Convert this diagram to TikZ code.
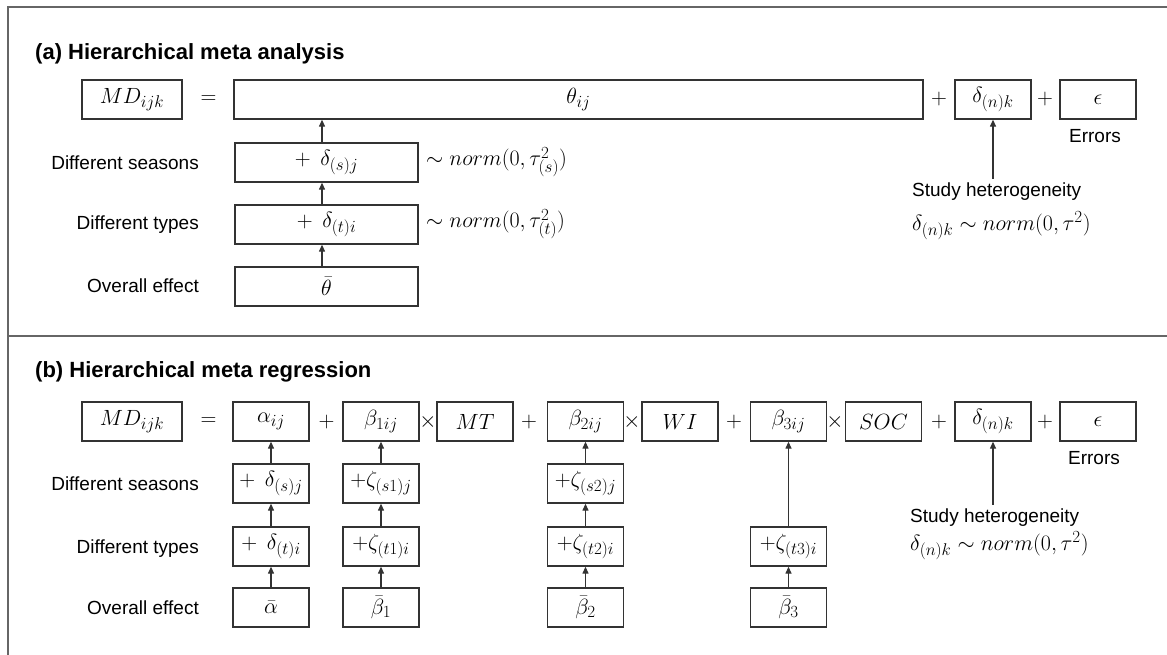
\RequirePackage{fix-cm}
\documentclass[tikz,border=0pt]{standalone}
\usepackage{fontspec}
\newfontfamily\labfont{Liberation Sans}
\DeclareMathSizes{22}{22}{17}{13}
\usetikzlibrary{arrows.meta}
\begin{document}
\begin{tikzpicture}[x=1pt,y=-1pt,
  bx/.style={draw=black!80, line width=1.3pt, inner sep=0pt, minimum height=39pt, font=\fontsize{22}{26}\selectfont},
  mth/.style={inner sep=0pt, font=\fontsize{22}{26}\selectfont},
  lab/.style={inner sep=0pt, font=\labfont\fontsize{19}{23}\selectfont},
  ttl/.style={inner sep=0pt, anchor=base west, font=\labfont\bfseries\fontsize{22}{26}\selectfont},
  arr/.style={draw=black!80, line width=1.2pt, -{Triangle[length=7pt,width=6pt]}},
  frm/.style={draw=black!60, line width=1.5pt}]
\useasboundingbox (0,0) rectangle (1167,655);
% frame
\coordinate (fBL) at (8,655);
\coordinate (fTL) at (8,7);
\coordinate (fTR) at (1167,7);
\coordinate (dL) at (8,336);
\coordinate (dR) at (1167,336);
\draw[frm] (fBL) -- (fTL) -- (fTR);
\draw[frm] (dL) -- (dR);

% ---------------- panel (a)
\node[ttl] (ta) at (35,59.5) {(a) Hierarchical meta analysis};
\node[bx, minimum width=100pt] (amd) at (132,99.5) {$MD_{ijk}$};
\node[mth] (aeq) at (208.5,99.5) {$=$};
\node[bx, minimum width=689pt] (ath) at (578.5,99.5) {$\theta_{ij}$};
\node[mth] (ap1) at (939,99.5) {$+$};
\node[bx, minimum width=76pt] (adn) at (993,99.5) {$\delta_{(n)k}$};
\node[mth] (ap2) at (1045,99.5) {$+$};
\node[bx, minimum width=76pt] (aep) at (1098,99.5) {$\epsilon$};
\node[lab, anchor=base] (aerr) at (1095,142.5) {Errors};
\node[lab, anchor=base west] (ash) at (912,196.5) {Study heterogeneity};
\node[mth, anchor=base west] (asd) at (912,230) {$\delta_{(n)k}\sim norm(0,\tau^2)$};
\draw[arr] ([yshift=4pt]adn.south |- ash.north) -- (adn.south);

\node[lab, anchor=base east] (als) at (199,169.5) {Different seasons};
\node[lab, anchor=base east] (alt) at (199,229.5) {Different types};
\node[lab, anchor=base east] (alo) at (199,292.5) {Overall effect};
\node[bx, minimum width=183pt] (as) at (326.5,162.5) {$+\;\,\delta_{(s)j}$};
\node[bx, minimum width=183pt] (at) at (326.5,224.5) {$+\;\,\delta_{(t)i}$};
\node[bx, minimum width=183pt] (ao) at (326.5,286.5) {$\bar{\theta}$};
\node[mth, anchor=base west] (ans) at (426,166) {$\sim norm(0,\tau^2_{(s)})$};
\node[mth, anchor=base west] (ant) at (426,228) {$\sim norm(0,\tau^2_{(t)})$};
\draw[arr] ([xshift=-4.5pt]ao.north) -- ([xshift=-4.5pt]at.south);
\draw[arr] ([xshift=-4.5pt]at.north) -- ([xshift=-4.5pt]as.south);
\draw[arr] ([xshift=-4.5pt]as.north) -- ([xshift=-4.5pt]as.north |- ath.south);

% ---------------- panel (b)
\node[ttl] (tb) at (35,377.5) {(b) Hierarchical meta regression};
\node[bx, minimum width=100pt] (bmd) at (132,421.5) {$MD_{ijk}$};
\node[mth] (beq) at (208.5,421.5) {$=$};
\node[bx, minimum width=76pt] (bal) at (271,421.5) {$\alpha_{ij}$};
\node[mth] (bp1) at (326.5,421.5) {$+$};
\node[bx, minimum width=76pt] (bb1) at (381,421.5) {$\beta_{1ij}$};
\node[mth] (bx1) at (428,421.5) {$\times$};
\node[bx, minimum width=76pt] (bmt) at (475,421.5) {$MT$};
\node[mth] (bp2) at (529,421.5) {$+$};
\node[bx, minimum width=76pt] (bb2) at (585.5,421.5) {$\beta_{2ij}$};
\node[mth] (bx2) at (632,421.5) {$\times$};
\node[bx, minimum width=76pt] (bwi) at (680,421.5) {$WI$};
\node[mth] (bp3) at (734,421.5) {$+$};
\node[bx, minimum width=76pt] (bb3) at (788.5,421.5) {$\beta_{3ij}$};
\node[mth] (bx3) at (835,421.5) {$\times$};
\node[bx, minimum width=76pt] (bsoc) at (883.5,421.5) {$SOC$};
\node[mth] (bp4) at (939,421.5) {$+$};
\node[bx, minimum width=76pt] (bdn) at (993,421.5) {$\delta_{(n)k}$};
\node[mth] (bp5) at (1045,421.5) {$+$};
\node[bx, minimum width=76pt] (bep) at (1098,421.5) {$\epsilon$};
\node[lab, anchor=base] (berr) at (1094,464) {Errors};
\node[lab, anchor=base west] (bsh) at (910,522.5) {Study heterogeneity};
\node[mth, anchor=base west] (bsd) at (910,550) {$\delta_{(n)k}\sim norm(0,\tau^2)$};
\draw[arr] ([yshift=4pt]bdn.south |- bsh.north) -- (bdn.south);

\node[lab, anchor=base east] (bls) at (199,490.5) {Different seasons};
\node[lab, anchor=base east] (blt) at (199,553.5) {Different types};
\node[lab, anchor=base east] (blo) at (199,614.5) {Overall effect};

% alpha column
\node[bx, minimum width=76pt] (as1) at (271,483.5) {$+\;\,\delta_{(s)j}$};
\node[bx, minimum width=76pt] (at1) at (271,546.5) {$+\;\,\delta_{(t)i}$};
\node[bx, minimum width=76pt] (ao1) at (271,607.5) {$\bar{\alpha}$};
\draw[arr] (ao1) -- (at1);
\draw[arr] (at1) -- (as1);
\draw[arr] (as1) -- (bal);
% beta1 column
\node[bx, minimum width=76pt] (as2) at (381,483.5) {$+\zeta_{(s1)j}$};
\node[bx, minimum width=76pt] (at2) at (381,546.5) {$+\zeta_{(t1)i}$};
\node[bx, minimum width=76pt] (ao2) at (381,607.5) {$\bar{\beta}_1$};
\draw[arr] (ao2) -- (at2);
\draw[arr] (at2) -- (as2);
\draw[arr] (as2) -- (bb1);
% beta2 column
\node[bx, minimum width=76pt] (as3) at (585.5,483.5) {$+\zeta_{(s2)j}$};
\node[bx, minimum width=76pt] (at3) at (585.5,546.5) {$+\zeta_{(t2)i}$};
\node[bx, minimum width=76pt] (ao3) at (585.5,607.5) {$\bar{\beta}_2$};
\draw[arr] (ao3) -- (at3);
\draw[arr] (at3) -- (as3);
\draw[arr] (as3) -- (bb2);
% beta3 column
\node[bx, minimum width=76pt] (at4) at (788.5,546.5) {$+\zeta_{(t3)i}$};
\node[bx, minimum width=76pt] (ao4) at (788.5,607.5) {$\bar{\beta}_3$};
\draw[arr] (ao4) -- (at4);
\draw[arr] (at4) -- (bb3);
\end{tikzpicture}
\end{document}
